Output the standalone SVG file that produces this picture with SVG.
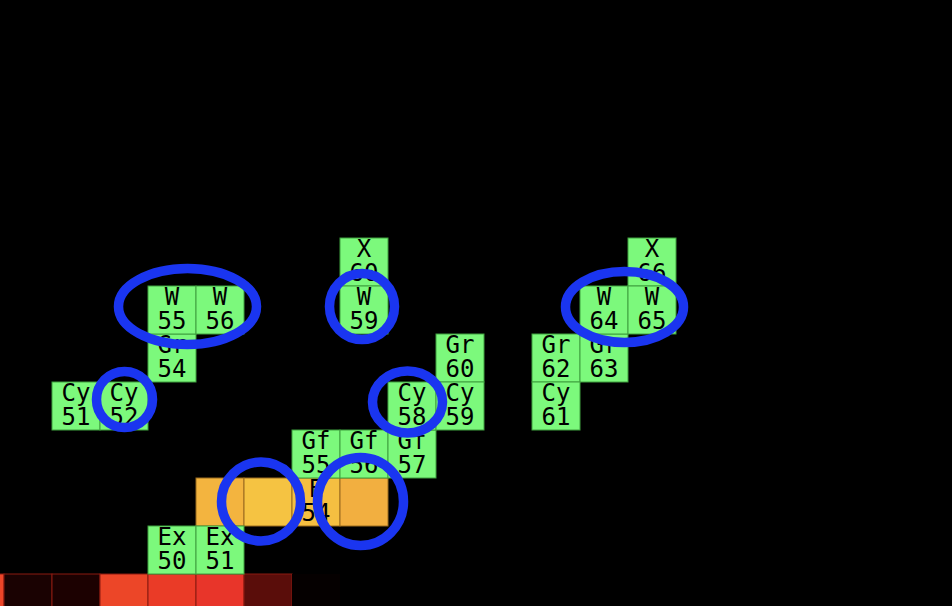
<svg xmlns="http://www.w3.org/2000/svg" width="952" height="606" viewBox="0 0 952 606">
<style>
.g{fill:#7cf97c;stroke:#3f9f3f;stroke-width:1}
.o{stroke:#9a6b1e;stroke-width:1}
.r{stroke:#8a1a10;stroke-width:1}
text{font-family:"DejaVu Sans Mono",monospace;font-size:24px;fill:#000;text-anchor:middle}
.ring{fill:none;stroke:#1a35f0;stroke-width:9.5}
</style>
<rect width="952" height="606" fill="#000"/>
<g id="bottom-row">
<rect class="r" x="-44" y="574" width="48" height="48" fill="#ec4528"/>
<rect class="r" x="4" y="574" width="48" height="48" fill="#1a0202"/>
<rect class="r" x="52" y="574" width="48" height="48" fill="#1c0101"/>
<rect class="r" x="100" y="574" width="48" height="48" fill="#ec4628"/>
<rect class="r" x="148" y="574" width="48" height="48" fill="#ea3b27"/>
<rect class="r" x="196" y="574" width="48" height="48" fill="#e8352a"/>
<rect class="r" x="244" y="574" width="48" height="48" fill="#5a0d0a"/>
<rect x="292" y="574" width="48" height="48" fill="#050000"/>
</g>
<g id="orange-row">
<rect class="o" x="196" y="478" width="48" height="48" fill="#f3b43f"/>
<rect class="o" x="244" y="478" width="48" height="48" fill="#f5c342"/>
<g id="E54"><rect class="o" x="292" y="478" width="48" height="48" fill="#f5bf41"/><text x="316" y="497">E</text><text x="316" y="521">54</text></g>
<rect class="o" x="340" y="478" width="48" height="48" fill="#f2af40"/>
</g>
<g id="Ex50"><rect class="g" x="148" y="526" width="48" height="48"/><text x="172" y="545">Ex</text><text x="172" y="569">50</text></g>
<g id="Ex51"><rect class="g" x="196" y="526" width="48" height="48"/><text x="220" y="545">Ex</text><text x="220" y="569">51</text></g>
<g id="Gf55"><rect class="g" x="292" y="430" width="48" height="48"/><text x="316" y="449">Gf</text><text x="316" y="473">55</text></g>
<g id="Gf56"><rect class="g" x="340" y="430" width="48" height="48"/><text x="364" y="449">Gf</text><text x="364" y="473">56</text></g>
<g id="Gf57"><rect class="g" x="388" y="430" width="48" height="48"/><text x="412" y="449">Gf</text><text x="412" y="473">57</text></g>
<g id="Cy51"><rect class="g" x="52" y="382" width="48" height="48"/><text x="76" y="401">Cy</text><text x="76" y="425">51</text></g>
<g id="Cy52"><rect class="g" x="100" y="382" width="48" height="48"/><text x="124" y="401">Cy</text><text x="124" y="425">52</text></g>
<g id="Gr54"><rect class="g" x="148" y="334" width="48" height="48"/><text x="172" y="353">Gr</text><text x="172" y="377">54</text></g>
<g id="W55"><rect class="g" x="148" y="286" width="48" height="48"/><text x="172" y="305">W</text><text x="172" y="329">55</text></g>
<g id="W56"><rect class="g" x="196" y="286" width="48" height="48"/><text x="220" y="305">W</text><text x="220" y="329">56</text></g>
<g id="X60"><rect class="g" x="340" y="238" width="48" height="48"/><text x="364" y="257">X</text><text x="364" y="281">60</text></g>
<g id="W59"><rect class="g" x="340" y="286" width="48" height="48"/><text x="364" y="305">W</text><text x="364" y="329">59</text></g>
<g id="Gr60"><rect class="g" x="436" y="334" width="48" height="48"/><text x="460" y="353">Gr</text><text x="460" y="377">60</text></g>
<g id="Cy58"><rect class="g" x="388" y="382" width="48" height="48"/><text x="412" y="401">Cy</text><text x="412" y="425">58</text></g>
<g id="Cy59"><rect class="g" x="436" y="382" width="48" height="48"/><text x="460" y="401">Cy</text><text x="460" y="425">59</text></g>
<g id="Gr62"><rect class="g" x="532" y="334" width="48" height="48"/><text x="556" y="353">Gr</text><text x="556" y="377">62</text></g>
<g id="Gr63"><rect class="g" x="580" y="334" width="48" height="48"/><text x="604" y="353">Gr</text><text x="604" y="377">63</text></g>
<g id="Cy61"><rect class="g" x="532" y="382" width="48" height="48"/><text x="556" y="401">Cy</text><text x="556" y="425">61</text></g>
<g id="X66"><rect class="g" x="628" y="238" width="48" height="48"/><text x="652" y="257">X</text><text x="652" y="281">66</text></g>
<g id="W64"><rect class="g" x="580" y="286" width="48" height="48"/><text x="604" y="305">W</text><text x="604" y="329">64</text></g>
<g id="W65"><rect class="g" x="628" y="286" width="48" height="48"/><text x="652" y="305">W</text><text x="652" y="329">65</text></g>
<g id="rings">
<ellipse class="ring" cx="187.5" cy="306.5" rx="69" ry="38"/>
<ellipse class="ring" cx="124.5" cy="399.5" rx="28" ry="28"/>
<ellipse class="ring" cx="362" cy="306.5" rx="32.5" ry="33"/>
<ellipse class="ring" cx="407.5" cy="402" rx="35" ry="31"/>
<ellipse class="ring" cx="624.5" cy="307" rx="59" ry="35.5"/>
<ellipse class="ring" cx="261" cy="501.5" rx="39.5" ry="39.5"/>
<ellipse class="ring" cx="360.5" cy="501.5" rx="43" ry="44"/>
</g>
</svg>
